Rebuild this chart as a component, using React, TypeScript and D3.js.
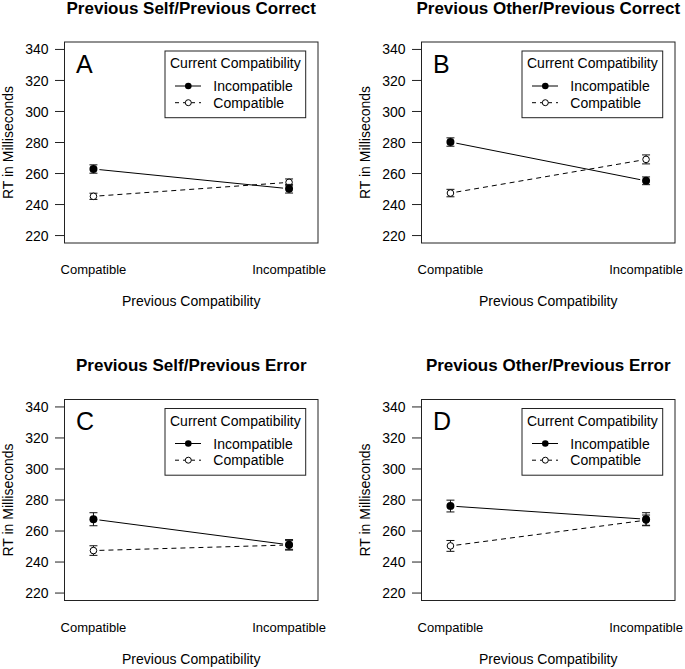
import React from "react";
import * as d3 from "d3";

const categories = ["Compatible", "Incompatible"];
const panelTitles = [
  "Previous Self/Previous Correct",
  "Previous Other/Previous Correct",
  "Previous Self/Previous Error",
  "Previous Other/Previous Error",
];
const panelLetters = ["A", "B", "C", "D"];
const seriesNames = ["Incompatible", "Compatible"];
const legendTitle = "Current Compatibility";
const yAxisTitle = "RT in Milliseconds";
const xAxisTitle = "Previous Compatibility";

const incompatibleMeans = [
  [262.9, 250.2],
  [280.3, 255.3],
  [267.6, 251.1],
  [276.1, 267.6],
];
const incompatibleErrs = [
  [2.7, 2.8],
  [2.7, 2.5],
  [4.2, 3.4],
  [3.8, 4.2],
];
const compatibleMeans = [
  [245.3, 254.3],
  [247.4, 269.1],
  [247.4, 251.0],
  [250.4, 267.0],
];
const compatibleErrs = [
  [2.0, 2.2],
  [2.4, 2.9],
  [3.1, 2.8],
  [3.5, 3.3],
];
const yTicks = [220, 240, 260, 280, 300, 320, 340];

const FONT = "'Liberation Sans', Arial, Helvetica, sans-serif";
const W = 685;
const H = 669;
const colOffsets = [0, 357];
const rowOffsets = [0, 357.5];

const box = { left: 64.5, right: 318, top: 42, bottom: 243 };

function Panel({ idx }: { idx: number }) {
  const ox = colOffsets[idx % 2];
  const oy = rowOffsets[Math.floor(idx / 2)];
  const x = d3.scaleLinear().domain([0.852, 2.148]).range([box.left, box.right]);
  const y = d3.scaleLinear().domain([215.2, 344.8]).range([box.bottom, box.top]);
  const cx = (box.left + box.right) / 2;
  const cy = (box.top + box.bottom) / 2;
  const gap = 6;

  const seg = (vals: number[]) => {
    const x1 = x(1), y1 = y(vals[0]);
    const x2 = x(2), y2 = y(vals[1]);
    const dx = x2 - x1, dy = y2 - y1;
    const len = Math.sqrt(dx * dx + dy * dy);
    const ux = dx / len, uy = dy / len;
    return {
      x1: x1 + ux * gap,
      y1: y1 + uy * gap,
      x2: x2 - ux * gap,
      y2: y2 - uy * gap,
    };
  };

  const errBar = (xi: number, m: number, e: number, key: string) => {
    const px = x(xi);
    const t = y(m + e);
    const b = y(m - e);
    return (
      <g key={key} stroke="#111" strokeWidth={1}>
        <line x1={px} x2={px} y1={t} y2={b} />
        <line x1={px - 4} x2={px + 4} y1={t} y2={t} />
        <line x1={px - 4} x2={px + 4} y1={b} y2={b} />
      </g>
    );
  };

  const sInc = seg(incompatibleMeans[idx]);
  const sCom = seg(compatibleMeans[idx]);

  return (
    <g transform={`translate(${ox},${oy})`} fontFamily={FONT}>
      <text x={cx} y={13.5} textAnchor="middle" fontSize={17} fontWeight="bold" fill="#000">
        {panelTitles[idx]}
      </text>
      <rect
        x={box.left}
        y={box.top}
        width={box.right - box.left}
        height={box.bottom - box.top}
        fill="none"
        stroke="#222"
        strokeWidth={1}
      />
      {yTicks.map((t) => (
        <g key={t}>
          <line x1={55} x2={box.left} y1={y(t)} y2={y(t)} stroke="#222" strokeWidth={1} />
          <text x={48.5} y={y(t)} dy="0.36em" textAnchor="end" fontSize={14} fill="#000">
            {t}
          </text>
        </g>
      ))}
      {categories.map((c, i) => (
        <text key={c} x={x(i + 1)} y={274} textAnchor="middle" fontSize={13} fill="#000">
          {c}
        </text>
      ))}
      <text x={cx} y={306} textAnchor="middle" fontSize={14} fill="#000">
        {xAxisTitle}
      </text>
      <text
        transform={`translate(12.5,${cy}) rotate(-90)`}
        textAnchor="middle"
        fontSize={14}
        fill="#000"
      >
        {yAxisTitle}
      </text>
      <text x={76} y={72.7} fontSize={25} fill="#000">
        {panelLetters[idx]}
      </text>

      {/* legend */}
      <rect x={165} y={51} width={140.7} height={66.7} fill="white" stroke="#222" strokeWidth={1} />
      <text x={170} y={68.3} fontSize={14} fill="#000">
        {legendTitle}
      </text>
      <line x1={175} x2={201} y1={86} y2={86} stroke="#000" strokeWidth={1} />
      <circle cx={188.3} cy={86} r={3.3} fill="#000" />
      <text x={213.3} y={91} fontSize={14} fill="#000">
        {seriesNames[0]}
      </text>
      <line x1={175} x2={201} y1={102.7} y2={102.7} stroke="#000" strokeWidth={1} strokeDasharray="4,4" />
      <circle cx={188.3} cy={102.7} r={3} fill="white" stroke="#000" strokeWidth={1} />
      <text x={213.3} y={107.7} fontSize={14} fill="#000">
        {seriesNames[1]}
      </text>

      {/* lines */}
      <line {...sInc} stroke="#000" strokeWidth={1} />
      <line {...sCom} stroke="#000" strokeWidth={1} strokeDasharray="5,4" />

      {/* error bars and points: compatible first */}
      {compatibleMeans[idx].map((m, i) => errBar(i + 1, m, compatibleErrs[idx][i], `ce${i}`))}
      {compatibleMeans[idx].map((m, i) => (
        <circle key={`cp${i}`} cx={x(i + 1)} cy={y(m)} r={3.3} fill="white" stroke="#000" strokeWidth={1} />
      ))}
      {incompatibleMeans[idx].map((m, i) => errBar(i + 1, m, incompatibleErrs[idx][i], `ie${i}`))}
      {incompatibleMeans[idx].map((m, i) => (
        <circle key={`ip${i}`} cx={x(i + 1)} cy={y(m)} r={4} fill="#000" />
      ))}
    </g>
  );
}

export default function App() {
  return (
    <svg
      width={W}
      height={H}
      viewBox={`0 0 ${W} ${H}`}
      style={{ position: "absolute", left: 0, top: 0, background: "white" }}
    >
      <rect x={0} y={0} width={W} height={H} fill="white" />
      {[0, 1, 2, 3].map((i) => (
        <Panel key={i} idx={i} />
      ))}
    </svg>
  );
}
